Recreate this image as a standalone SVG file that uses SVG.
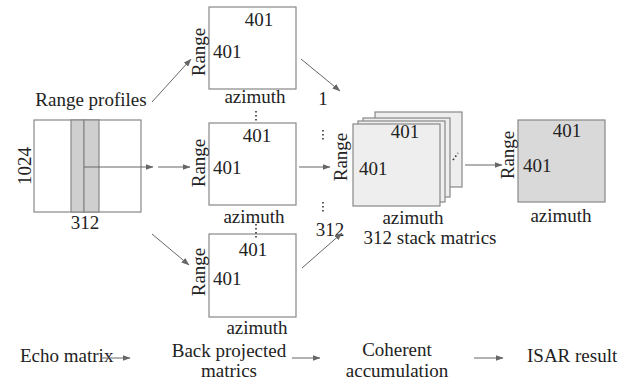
<svg xmlns="http://www.w3.org/2000/svg" width="629" height="384" viewBox="0 0 629 384" font-family="Liberation Serif, serif">
<defs>
<marker id="ah" markerWidth="8" markerHeight="6" refX="7.5" refY="3" orient="auto" markerUnits="userSpaceOnUse">
<path d="M0,0 L8,3 L0,6 Z" fill="#666"/>
</marker>
</defs>
<style>
text{font-family:"Liberation Serif","Times New Roman",serif;font-size:19px;fill:#222}
.bx{fill:#fff;stroke:#888;stroke-width:1.2}
.gr{fill:#cfcfcf;stroke:#888;stroke-width:1.2}
.st{fill:#eeeeee;stroke:#888;stroke-width:1.2}
.res{fill:#d9d9d9;stroke:#888;stroke-width:1.2}
.ar{stroke:#666;stroke-width:1;fill:none;marker-end:url(#ah)}
.dot{stroke:#333;stroke-width:1.6;stroke-dasharray:1.6 2.4;fill:none}
.m{text-anchor:middle}
</style>
<rect width="629" height="384" fill="#fff"/>

<g id="echo">
<text class="m" x="91" y="106">Range profiles</text>
<rect class="bx" x="34" y="120" width="107" height="92"/>
<rect class="gr" x="71" y="120" width="13" height="92"/>
<rect class="gr" x="84" y="120" width="15" height="92"/>
<text class="m" transform="translate(31,166) rotate(-90)">1024</text>
<text class="m" x="85" y="229">312</text>
</g>

<g id="bp1">
<rect class="bx" x="209" y="7" width="87" height="82"/>
<text class="m" x="259" y="26">401</text>
<text x="213" y="58">401</text>
<text class="m" transform="translate(205,52) rotate(-90)">Range</text>
<text class="m" x="255" y="103">azimuth</text>
</g>

<g id="bp2">
<rect class="bx" x="209" y="123" width="87" height="82"/>
<text class="m" x="257" y="142">401</text>
<text x="213" y="174">401</text>
<text class="m" transform="translate(205,163) rotate(-90)">Range</text>
<text class="m" x="254" y="223">azimuth</text>
</g>

<g id="bp3">
<rect class="bx" x="209" y="234" width="87" height="83"/>
<text class="m" x="253" y="256">401</text>
<text x="213" y="285">401</text>
<text class="m" transform="translate(205,272) rotate(-90)">Range</text>
<text class="m" x="257" y="334">azimuth</text>
</g>

<g id="stack">
<rect class="st" x="375" y="112" width="87" height="75"/>
<rect class="st" x="363" y="118" width="87" height="79"/>
<rect class="st" x="358" y="121" width="87" height="81"/>
<rect class="st" x="353" y="124" width="87" height="82"/>
<text class="m" x="405" y="138">401</text>
<text x="359" y="175">401</text>
<text class="m" transform="translate(347,157) rotate(-90)">Range</text>
<text class="m" x="413" y="224">azimuth</text>
<text class="m" x="430" y="244">312 stack matrics</text>
<path class="dot" d="M453,160 L458,153"/>
</g>

<g id="result">
<rect class="res" x="518" y="120" width="87" height="82"/>
<text class="m" x="567" y="137">401</text>
<text x="523" y="172">401</text>
<text class="m" transform="translate(514,155) rotate(-90)">Range</text>
<text class="m" x="561" y="222">azimuth</text>
</g>

<g id="labels">
<text class="m" x="323" y="105">1</text>
<text class="m" x="330" y="236">312</text>
</g>

<g id="flow">
<text x="20" y="362">Echo matrix</text>
<text class="m" x="229" y="357">Back projected</text>
<text class="m" x="229" y="377">matrics</text>
<text class="m" x="397" y="356">Coherent</text>
<text class="m" x="397" y="377">accumulation</text>
<text x="527" y="362">ISAR result</text>
</g>

<g id="connectors">
<path class="ar" d="M152,102 L191,59"/>
<path class="ar" d="M84,167 L153,167"/>
<path class="ar" d="M158,167 L190,167"/>
<path class="ar" d="M152,234 L189,265"/>
<path class="ar" d="M301,59 L340,91"/>
<path class="ar" d="M299,167 L330,167"/>
<path class="ar" d="M302,268 L342,233"/>
<path class="ar" d="M465,165 L502,165"/>
<path class="ar" d="M101,358 L130,358"/>
<path class="ar" d="M292,358 L320,358"/>
<path class="ar" d="M474,358 L503,358"/>
<path class="dot" d="M256,111 L256,121"/>
<path class="dot" d="M256,224 L256,239"/>
<path class="dot" d="M323,130 L323,142"/>
<path class="dot" d="M323,202 L323,214"/>
</g>
</svg>
